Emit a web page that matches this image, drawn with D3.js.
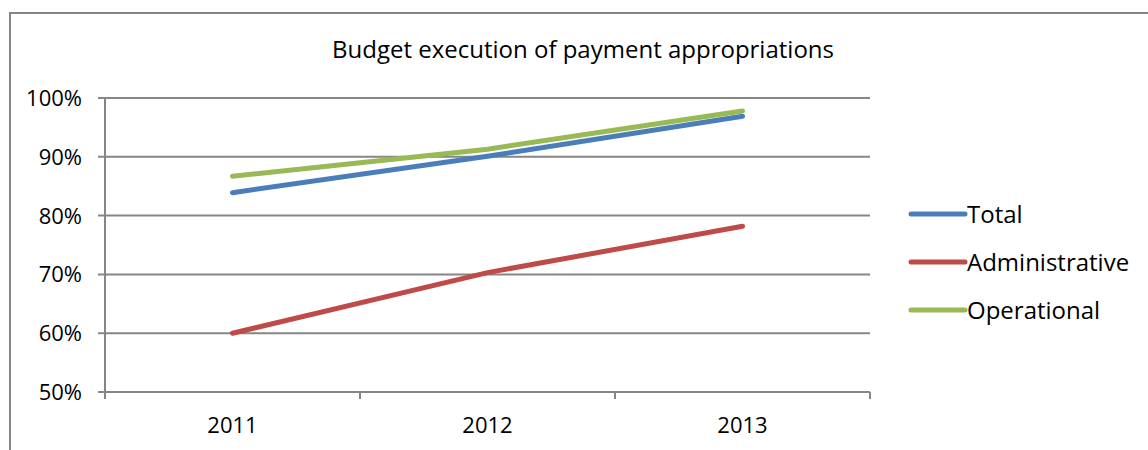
<!DOCTYPE html>
<html>
<head>
<meta charset="utf-8">
<script src="https://cdn.jsdelivr.net/npm/d3@7"></script>
<style>
  body { margin: 0; background: #fff; }
  text { font-family: 'Open Sans', 'Noto Sans', sans-serif; fill: #000; }
</style>
</head>
<body>
<div id="chart"></div>
<script>
const years = ['2011', '2012', '2013']
const total = [0.839, 0.901, 0.969]
const administrative = [0.60, 0.703, 0.782]
const operational = [0.867, 0.913, 0.978]
const yTicks = [0.5, 0.6, 0.7, 0.8, 0.9, 1.0]

const seriesNames = ['Total', 'Administrative', 'Operational']
const seriesColors = ['#4a7ebb', '#be4b48', '#98b954']
const seriesValues = [total, administrative, operational]

const width = 1148
const height = 450
const margin = { top: 98, left: 105, right: 278, bottom: 58 }
const innerW = width - margin.left - margin.right
const innerH = height - margin.top - margin.bottom

const svg = d3.select('#chart')
  .append('svg')
  .attr('width', width)
  .attr('height', height)

// outer chart frame (right and bottom run off the image)
svg.append('rect')
  .attr('x', 10)
  .attr('y', 13)
  .attr('width', width + 20)
  .attr('height', height + 20)
  .attr('fill', 'none')
  .attr('stroke', '#868686')
  .attr('stroke-width', 2)

svg.append('text')
  .text('Budget execution of payment appropriations')
  .attr('x', 583)
  .attr('y', 58)
  .attr('text-anchor', 'middle')
  .attr('font-size', 24)

const g = svg.append('g')
  .attr('transform', 'translate(' + margin.left + ',' + margin.top + ')')

const x = d3.scaleBand().domain(years).range([0, innerW])
const y = d3.scaleLinear().domain([0.5, 1.0]).range([innerH, 0])

// gridlines
g.selectAll('.grid')
  .data(yTicks)
  .enter()
  .append('line')
  .attr('x1', -7)
  .attr('x2', innerW)
  .attr('y1', d => y(d))
  .attr('y2', d => y(d))
  .attr('stroke', '#868686')
  .attr('stroke-width', 2)

// y axis line
g.append('line')
  .attr('x1', 0).attr('x2', 0)
  .attr('y1', 0).attr('y2', innerH + 7)
  .attr('stroke', '#868686')
  .attr('stroke-width', 2)

// x tick marks at category boundaries
const boundaries = years.map(d => x(d)).concat([innerW])
g.selectAll('.xtick')
  .data(boundaries.slice(1))
  .enter()
  .append('line')
  .attr('x1', d => d).attr('x2', d => d)
  .attr('y1', innerH).attr('y2', innerH + 7)
  .attr('stroke', '#868686')
  .attr('stroke-width', 2)

g.selectAll('.ylabel')
  .data(yTicks)
  .enter()
  .append('text')
  .text(d => d3.format('.0%')(d))
  .attr('x', -23)
  .attr('y', d => y(d) + 8)
  .attr('text-anchor', 'end')
  .attr('font-size', 22)

g.selectAll('.xlabel')
  .data(years)
  .enter()
  .append('text')
  .text(d => d)
  .attr('x', d => x(d) + x.bandwidth() / 2)
  .attr('y', innerH + 41)
  .attr('text-anchor', 'middle')
  .attr('font-size', 22)

const line = d3.line()
  .x((d, i) => x(years[i]) + x.bandwidth() / 2)
  .y(d => y(d))

seriesValues.forEach(function(vals, i) {
  g.append('path')
    .datum(vals)
    .attr('d', line)
    .attr('fill', 'none')
    .attr('stroke', seriesColors[i])
    .attr('stroke-width', 5)
    .attr('stroke-linecap', 'round')
})

// legend
const legend = svg.append('g')
  .attr('transform', 'translate(911,214)')

seriesNames.forEach(function(name, i) {
  legend.append('line')
    .attr('x1', 0).attr('x2', 54)
    .attr('y1', i * 48).attr('y2', i * 48)
    .attr('stroke', seriesColors[i])
    .attr('stroke-width', 5)
    .attr('stroke-linecap', 'round')
  legend.append('text')
    .text(name)
    .attr('x', 56)
    .attr('y', i * 48 + 9)
    .attr('font-size', 24)
})
</script>
</body>
</html>
